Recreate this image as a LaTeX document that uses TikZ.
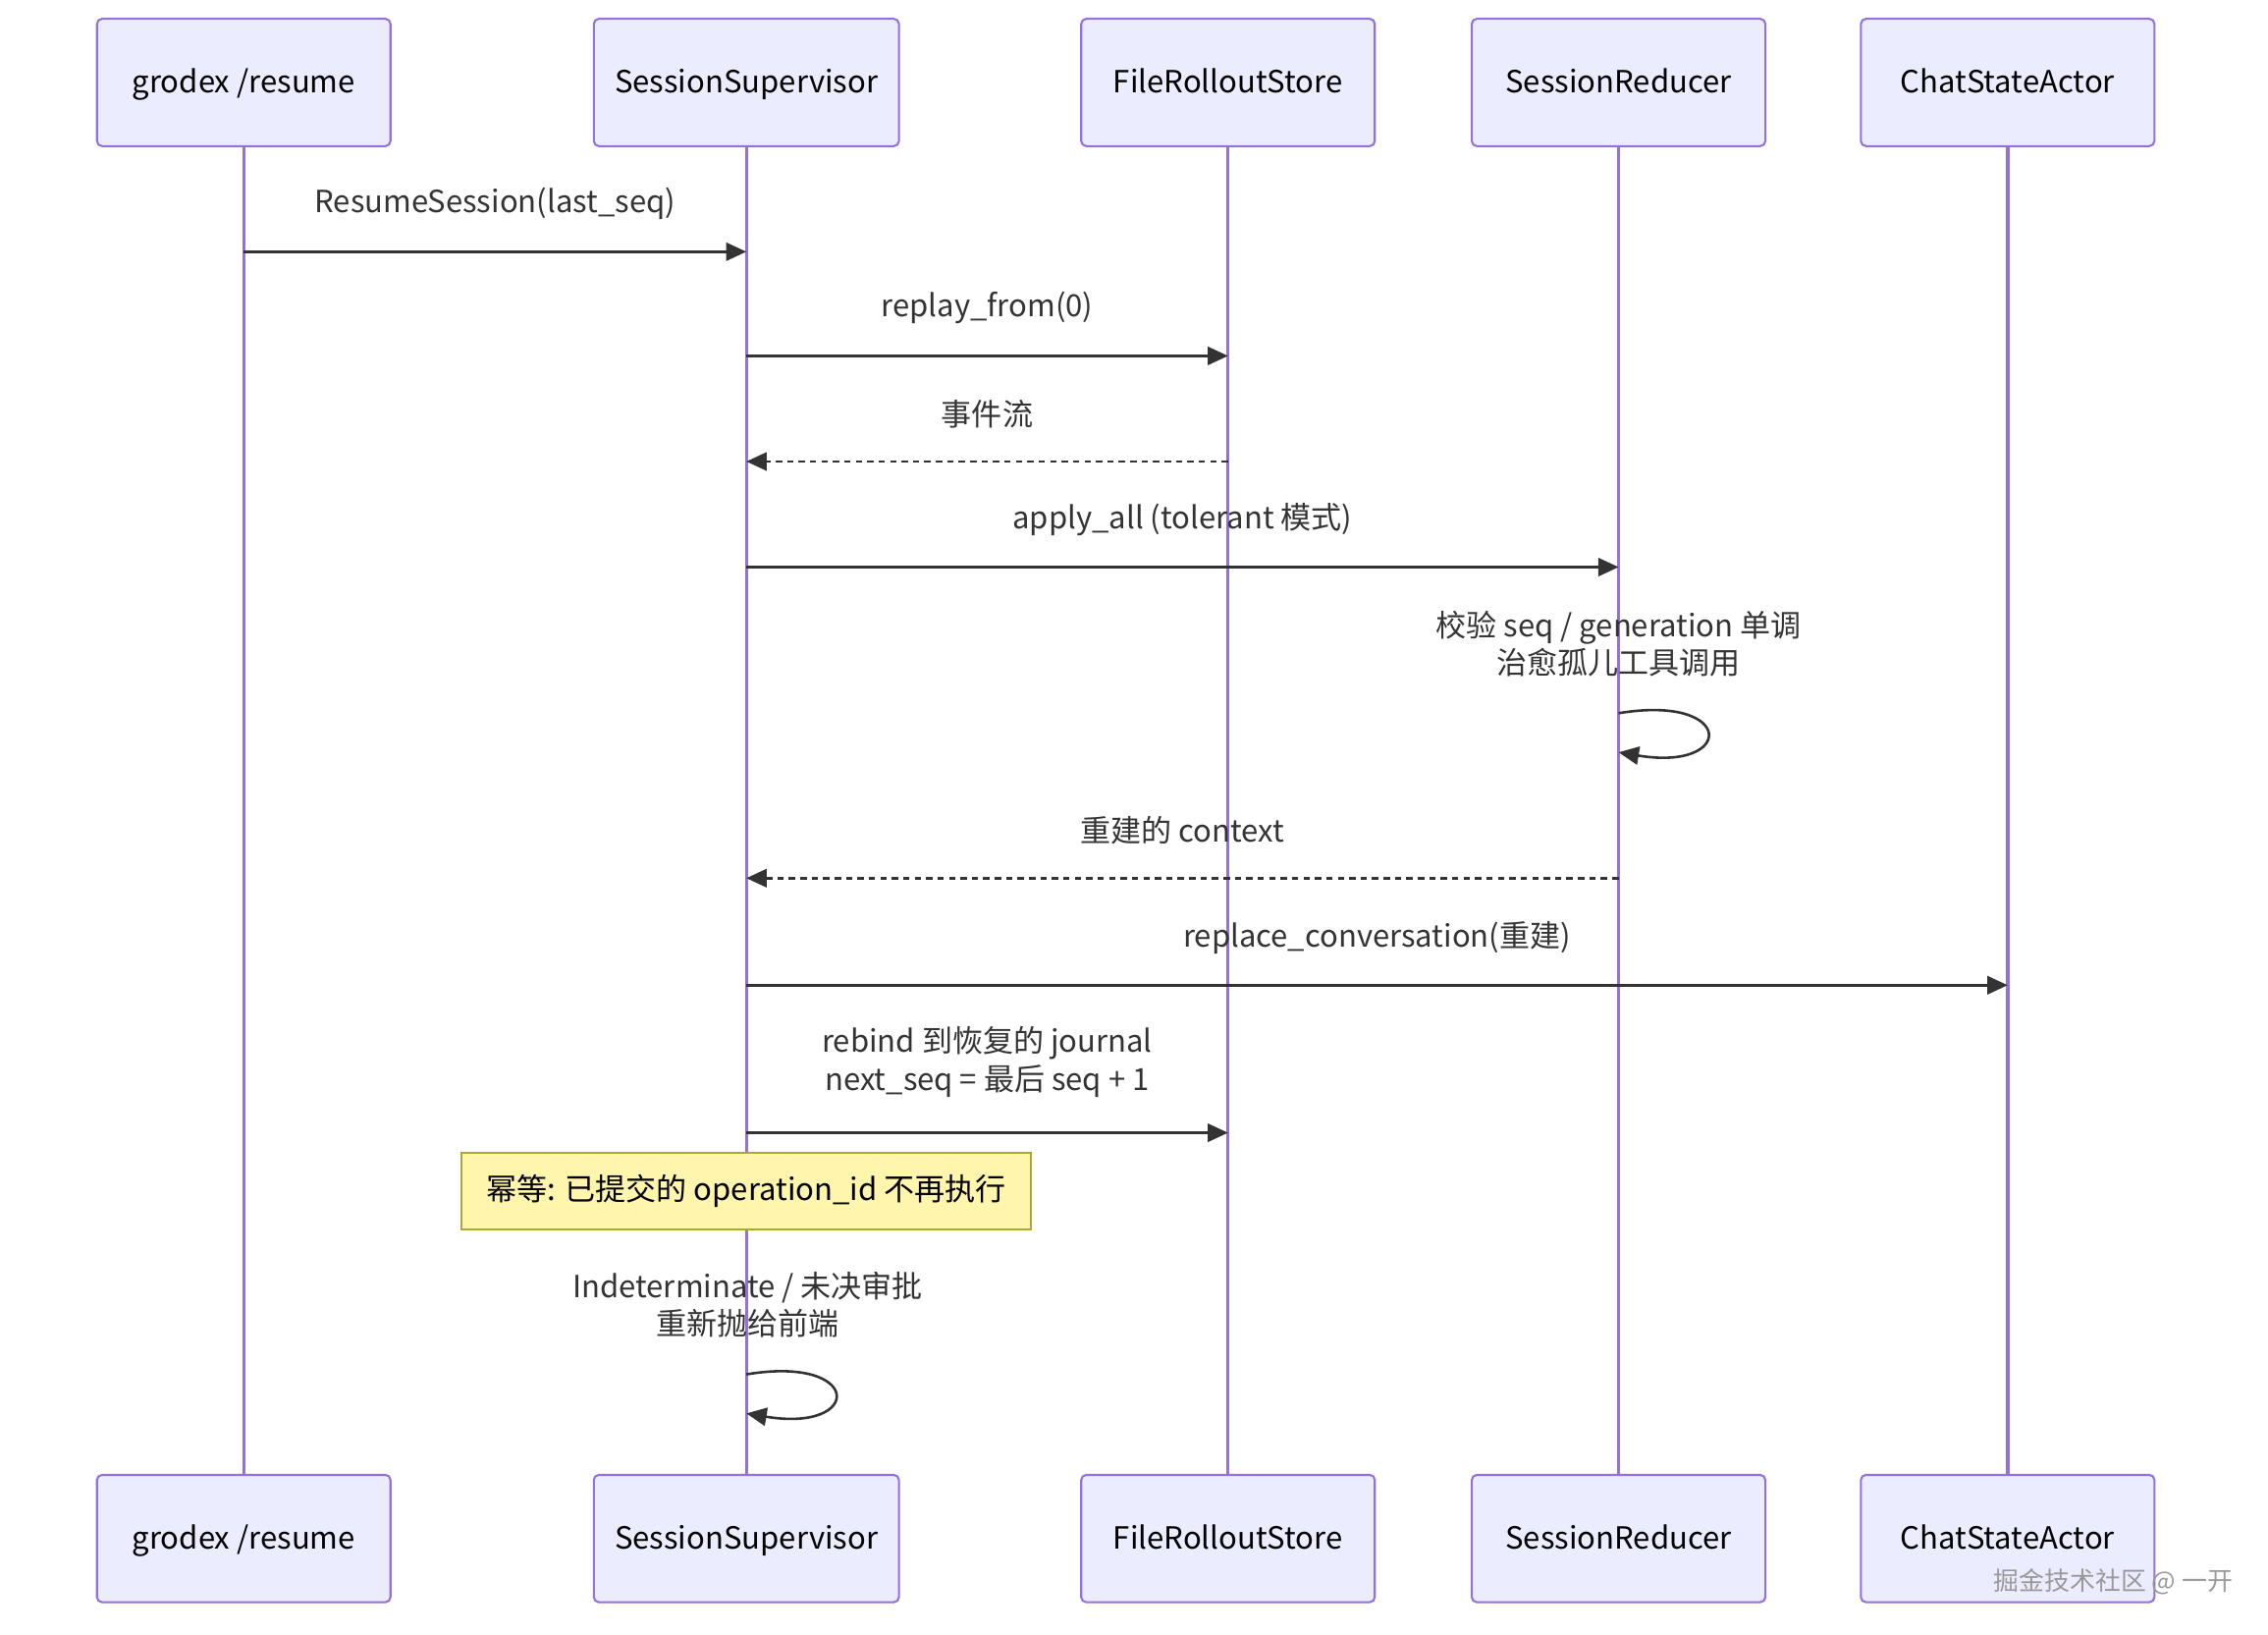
\documentclass[tikz,border=0pt]{standalone}
\usepackage{fontspec}
\setmainfont{Noto Sans CJK SC}
\usetikzlibrary{arrows.meta,positioning}

\definecolor{actorfill}{HTML}{ECECFF}
\definecolor{actorline}{HTML}{9370DB}
\definecolor{notefill}{HTML}{FFF5AD}
\definecolor{noteline}{HTML}{AAAA33}
\definecolor{msgline}{HTML}{333333}

\begin{document}
\begin{tikzpicture}[
    x=0.02cm, y=-0.02cm,
    actor/.style={rectangle, draw=actorline, fill=actorfill, rounded corners=2pt,
                line width=0.8pt, minimum width=4.06cm, minimum height=1.76cm,
                text height=2ex, text depth=0.45ex,
                font=\fontsize{12}{14}\selectfont, text=black},
    wide/.style={actor, minimum width=4.22cm},
    life/.style={actorline, line width=1.3pt},
    msg/.style={-{Triangle[length=0.28cm, width=0.25cm]}, msgline, line width=1pt},
    reply/.style={msg, dash pattern=on 2.5pt off 2pt},
    lbl/.style={font=\fontsize{12}{14.8}\selectfont, text=msgline, align=center, inner sep=0pt},
    note/.style={rectangle, draw=noteline, fill=notefill, line width=0.8pt,
                minimum width=7.88cm, minimum height=1.06cm,
                font=\fontsize{12}{14}\selectfont, text=black}
]
    \useasboundingbox (0,0) rectangle (1568,1130);

    % actors, top row
    \node[actor] (grodex) at (168.5,57) {grodex /resume};
    \node[wide] (supervisor) at (516,57) {SessionSupervisor};
    \node[actor] (store) at (849,57) {FileRolloutStore};
    \node[actor] (reducer) at (1119,57) {SessionReducer};
    \node[actor] (chatstate) at (1388,57) {ChatStateActor};

    % actors, bottom row
    \node[actor] (grodex2) at (168.5,1063.5) {grodex /resume};
    \node[wide] (supervisor2) at (516,1063.5) {SessionSupervisor};
    \node[actor] (store2) at (849,1063.5) {FileRolloutStore};
    \node[actor] (reducer2) at (1119,1063.5) {SessionReducer};
    \node[actor] (chatstate2) at (1388,1063.5) {ChatStateActor};

    \draw[life] (grodex) -- (grodex2);
    \draw[life] (supervisor) -- (supervisor2);
    \draw[life] (store) -- (store2);
    \draw[life] (reducer) -- (reducer2);
    \draw[life] (chatstate) -- (chatstate2);

    % messages
    \draw[msg] (grodex |- 0,174) -- node[lbl, yshift=0.66cm] {ResumeSession(last\_seq)} (supervisor |- 0,174);
    \draw[msg] (supervisor |- 0,246) -- node[lbl, yshift=0.66cm] {replay\_from(0)} (store |- 0,246);
    \draw[reply] (store |- 0,319) -- node[lbl, yshift=0.66cm] {事件流} (supervisor |- 0,319);
    \draw[msg] (supervisor |- 0,392) -- node[lbl, yshift=0.66cm] {apply\_all (tolerant 模式)} (reducer |- 0,392);

    \node[lbl] (checklbl) at (1119,445) {校验 seq / generation 单调\\治愈孤儿工具调用};
    \draw[msg] (reducer |- 0,493) .. controls +(81,-13.5) and +(81,13.5) .. (reducer |- 0,520);

    \draw[reply] (reducer |- 0,607) -- node[lbl, yshift=0.66cm] {重建的 context} (supervisor |- 0,607);
    \draw[msg] (supervisor |- 0,681) -- node[lbl, yshift=0.66cm] {replace\_conversation(重建)} (chatstate |- 0,681);
    \draw[msg] (supervisor |- 0,783) -- node[lbl, yshift=0.98cm] {rebind 到恢复的 journal\\next\_seq = 最后 seq + 1} (store |- 0,783);

    \node[note] (idem) at (516,823.5) {幂等: 已提交的 operation\_id 不再执行};

    \node[lbl] (pendlbl) at (517,902) {Indeterminate / 未决审批\\重新抛给前端};
    \draw[msg] (supervisor |- 0,950) .. controls +(81,-13.5) and +(81,13.5) .. (supervisor |- 0,977);

    \node[font=\fontsize{10}{12}\selectfont, text=gray!80] (mark) at (1461,1093) {掘金技术社区 @ 一开};
\end{tikzpicture}
\end{document}
